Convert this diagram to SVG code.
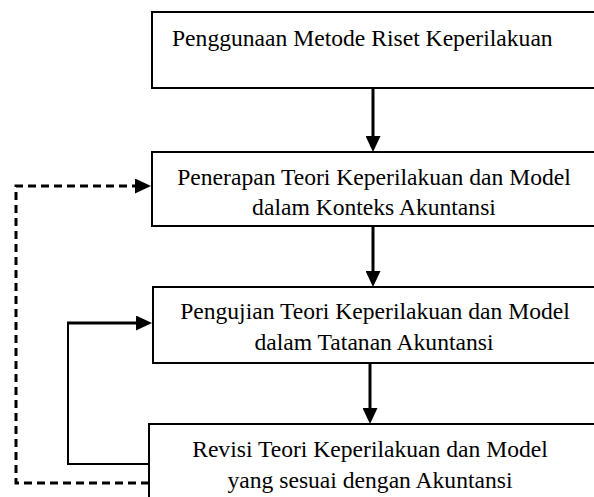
<svg xmlns="http://www.w3.org/2000/svg" width="594" height="497" viewBox="0 0 594 497">
  <style>
    .box { fill: #ffffff; stroke: #000000; stroke-width: 2; }
    .lbl { font-family: "Liberation Serif", "Times New Roman", serif; font-size: 23.6px; fill: #000000; }
    .mid { text-anchor: middle; }
    .conn { fill: none; stroke: #000000; stroke-width: 3; }
    .thin { fill: none; stroke: #000000; stroke-width: 2; }
    .dash { fill: none; stroke: #000000; stroke-width: 3; stroke-dasharray: 8 5; }
  </style>
  <defs>
    <marker id="arrow" markerUnits="userSpaceOnUse" markerWidth="16" markerHeight="15" refX="6" refY="7.5" orient="auto">
      <path d="M0,0 L16,7.5 L0,15 Z" fill="#000000"/>
    </marker>
  </defs>

  <g id="node-penggunaan">
    <rect class="box" x="152" y="12" width="460" height="76"/>
    <text class="lbl" x="172" y="46">Penggunaan Metode Riset Keperilakuan</text>
  </g>

  <g id="node-penerapan">
    <rect class="box" x="152" y="152" width="460" height="74"/>
    <text class="lbl mid" x="374" y="185">Penerapan Teori Keperilakuan dan Model</text>
    <text class="lbl mid" x="374" y="215">dalam Konteks Akuntansi</text>
  </g>

  <g id="node-pengujian">
    <rect class="box" x="153" y="287" width="460" height="76"/>
    <text class="lbl mid" x="375" y="319">Pengujian Teori Keperilakuan dan Model</text>
    <text class="lbl mid" x="374" y="350">dalam Tatanan Akuntansi</text>
  </g>

  <g id="node-revisi">
    <rect class="box" x="149" y="424" width="460" height="90"/>
    <text class="lbl mid" x="370" y="457">Revisi Teori Keperilakuan dan Model</text>
    <text class="lbl mid" x="370" y="488">yang sesuai dengan Akuntansi</text>
  </g>

  <g id="connectors">
    <line class="conn" x1="373" y1="88" x2="373" y2="142" marker-end="url(#arrow)"/>
    <line class="conn" x1="373" y1="226" x2="373" y2="277" marker-end="url(#arrow)"/>
    <line class="conn" x1="370" y1="363" x2="370" y2="414" marker-end="url(#arrow)"/>
    <path class="thin" d="M149,464 H68 V323"/>
    <line class="conn" x1="67" y1="323" x2="142" y2="323" marker-end="url(#arrow)"/>
    <path class="dash" d="M149,483 H16 V186 H141" marker-end="url(#arrow)"/>
  </g>
</svg>
